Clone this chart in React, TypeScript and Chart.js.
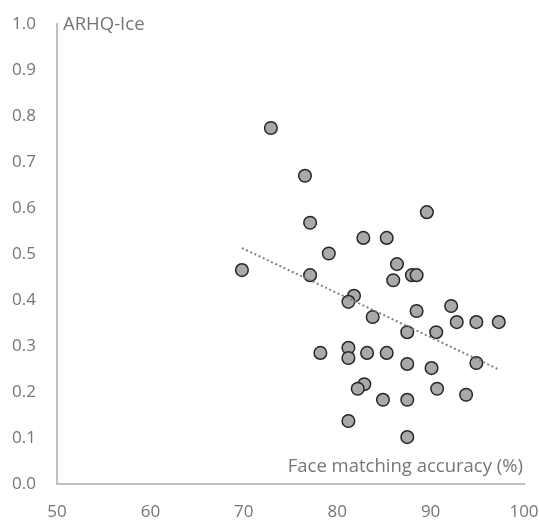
import React, { useEffect, useRef } from "react";
import { Chart, registerables } from "chart.js";

Chart.register(...registerables);

const accuracy = [
  72.9, 76.55, 77.1, 89.6, 82.8, 85.3, 79.1, 86.4, 86.0, 88.0, 88.5, 69.8, 77.1,
  81.8, 81.2, 83.8, 88.5, 92.2, 92.8, 94.9, 97.3, 87.5, 90.6, 78.2, 81.2, 81.2,
  83.2, 85.3, 87.5, 90.1, 94.9, 82.9, 82.2, 90.7, 93.8, 84.9, 87.5, 81.2, 87.5,
];
const arhq = [
  0.774, 0.670, 0.568, 0.591, 0.535, 0.535, 0.501, 0.478, 0.443, 0.454, 0.454, 0.465, 0.454,
  0.409, 0.396, 0.363, 0.376, 0.387, 0.352, 0.352, 0.352, 0.330, 0.330, 0.285, 0.296, 0.274,
  0.285, 0.285, 0.261, 0.252, 0.263, 0.217, 0.207, 0.207, 0.194, 0.183, 0.183, 0.137, 0.102,
];
const trendX = [69.8, 97.4];
const trendY = [0.513, 0.248];
const xTicks = [50, 60, 70, 80, 90, 100];
const yTicks = [0, 0.1, 0.2, 0.3, 0.4, 0.5, 0.6, 0.7, 0.8, 0.9, 1.0];
const yTitle = "ARHQ-Ice";
const xTitle = "Face matching accuracy (%)";

const FONT = "'Open Sans', sans-serif";
const TEXT = "#767676";

const titlePlugin = {
  id: "innerTitles",
  afterDraw(chart: any) {
    const { ctx, chartArea } = chart;
    ctx.save();
    ctx.fillStyle = TEXT;
    ctx.font = `18.5px ${FONT}`;
    ctx.textBaseline = "alphabetic";
    ctx.textAlign = "left";
    ctx.fillText(yTitle, chartArea.left + 6, chartArea.top + 6);
    ctx.textAlign = "right";
    ctx.fillText(xTitle, chartArea.right - 1, chartArea.bottom - 12);
    ctx.restore();
  },
};

export default function App() {
  const ref = useRef<HTMLCanvasElement | null>(null);
  useEffect(() => {
    if (!ref.current) return;
    const chart = new Chart(ref.current, {
      type: "scatter",
      data: {
        datasets: [
          {
            type: "scatter",
            data: accuracy.map((x, i) => ({ x, y: arhq[i] })),
            backgroundColor: "#a9a9ab",
            borderColor: "#262626",
            borderWidth: 1.5,
            pointRadius: 6.3,
            order: 2,
          },
          {
            type: "line",
            data: trendX.map((x, i) => ({ x, y: trendY[i] })),
            borderColor: "#808080",
            borderWidth: 2,
            borderDash: [2, 2.6],
            pointRadius: 0,
            fill: false,
            order: 1,
          } as any,
        ],
      },
      options: {
        animation: false,
        responsive: false,
        maintainAspectRatio: false,
        layout: { padding: { top: 24, right: 15, left: 0, bottom: 0 } },
        plugins: { legend: { display: false }, tooltip: { enabled: false } },
        scales: {
          x: {
            type: "linear",
            min: 50,
            max: 100,
            afterBuildTicks: (s: any) => {
              s.ticks = xTicks.map((v) => ({ value: v }));
            },
            afterFit: (s: any) => {
              s.height = 36;
              s.paddingLeft = 0;
              s.paddingRight = 0;
            },
            grid: { display: false, drawTicks: false },
            border: { display: true, color: "#c0c0c0", width: 2 },
            ticks: {
              color: TEXT,
              font: { family: FONT, size: 17 },
              padding: 18,
              callback: (v: any) => String(v),
            },
          },
          y: {
            type: "linear",
            min: 0,
            max: 1,
            afterBuildTicks: (s: any) => {
              s.ticks = yTicks.map((v) => ({ value: v }));
            },
            afterFit: (s: any) => {
              s.width = 57;
              s.paddingTop = 0;
              s.paddingBottom = 0;
            },
            grid: { display: false, drawTicks: false },
            border: { display: true, color: "#c0c0c0", width: 2 },
            ticks: {
              color: TEXT,
              font: { family: FONT, size: 17 },
              padding: 21,
              callback: (v: any) => Number(v).toFixed(1),
            },
          },
        },
      },
      plugins: [titlePlugin],
    });
    return () => chart.destroy();
  }, []);
  return (
    <div style={{ position: "absolute", left: 0, top: 0, width: 539, height: 520, background: "#fff" }}>
      <canvas ref={ref} width={539} height={520} style={{ width: 539, height: 520 }} />
    </div>
  );
}
